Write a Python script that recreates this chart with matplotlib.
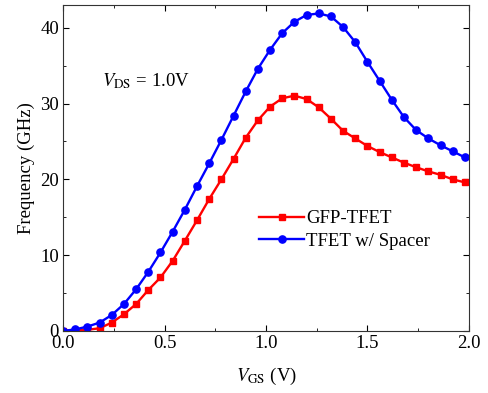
import numpy as np
import matplotlib.pyplot as plt
from matplotlib.ticker import MultipleLocator

# gate voltage sweep (V), step 0.06
vgs = np.arange(34) * 0.06

# GFP-TFET frequency (GHz)
f_gfp = [0.0, 0.05, 0.15, 0.35, 1.1, 2.2, 3.55, 5.4, 7.05, 9.25,
         11.9, 14.6, 17.4, 20.0, 22.7, 25.5, 27.8, 29.6, 30.7, 31.05,
         30.6, 29.5, 28.0, 26.4, 25.4, 24.4, 23.6, 22.9, 22.2, 21.6,
         21.05, 20.6, 20.0, 19.6]

# TFET w/ Spacer frequency (GHz)
f_spacer = [0.0, 0.2, 0.57, 1.1, 2.1, 3.55, 5.5, 7.8, 10.35, 13.1,
            16.0, 19.1, 22.1, 25.2, 28.4, 31.6, 34.6, 37.1, 39.3, 40.8,
            41.7, 41.9, 41.5, 40.1, 38.1, 35.5, 33.0, 30.5, 28.2, 26.5,
            25.4, 24.5, 23.7, 22.9]

plt.rcParams['font.family'] = ['Liberation Serif', 'DejaVu Serif']
plt.rcParams['mathtext.fontset'] = 'stix'
plt.rcParams['font.size'] = 13.5

fig = plt.figure(figsize=(4.89, 3.93), dpi=100)
ax = fig.add_axes([0.129, 0.158, 0.830, 0.829])

ax.plot(vgs, f_gfp, '-s', color='#ff0000', lw=1.7, ms=4.5, label='GFP-TFET')
ax.plot(vgs, f_spacer, '-o', color='#0000ff', lw=1.7, ms=5.2, label='TFET w/ Spacer')

ax.set_xlim(0, 2.0)
ax.set_ylim(0, 43)
ax.xaxis.set_major_locator(MultipleLocator(0.5))
ax.xaxis.set_minor_locator(MultipleLocator(0.25))
ax.yaxis.set_major_locator(MultipleLocator(10))
ax.yaxis.set_minor_locator(MultipleLocator(5))
ax.xaxis.set_major_formatter(lambda v, p: f'{v:.1f}')
ax.tick_params(which='both', direction='in', top=True, right=True, pad=3)
ax.tick_params(which='major', length=4)
ax.tick_params(which='minor', length=2.5)
for s in ax.spines.values():
    s.set_color('#333333')

ax.set_xlabel(r'$V_{\rm GS}$ (V)', labelpad=10)
ax.set_ylabel('Frequency (GHz)', labelpad=4)
ax.text(0.19, 32.3, r'$V_{\rm DS}$ = 1.0V')

ax.legend(loc='center left', bbox_to_anchor=(0.46, 0.31), frameon=False,
          handlelength=2.4, handletextpad=0.1, labelspacing=0.3, borderpad=0)

fig.savefig('out.png', dpi=100)
